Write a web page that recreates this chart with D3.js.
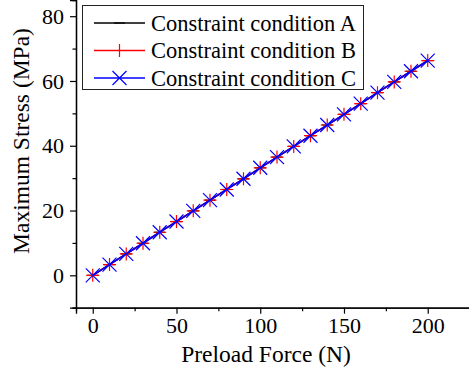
<!DOCTYPE html>
<html>
<head>
<meta charset="utf-8">
<script src="https://cdn.jsdelivr.net/npm/d3@7.9.0/dist/d3.min.js"></script>
<style>
  body { margin: 0; background: #fff; }
  svg { display: block; }
  svg text { font-family: "Liberation Serif", "Times New Roman", serif !important; }
</style>
</head>
<body>
<svg width="469" height="375"></svg>
<script>
// preload force (N)
const force = [0, 10, 20, 30, 40, 50, 60, 70, 80, 90, 100, 110, 120, 130, 140, 150, 160, 170, 180, 190, 200];
// maximum stress (MPa) for each constraint condition
const stressA = [0, 3.3, 6.6, 9.9, 13.3, 16.6, 19.9, 23.2, 26.5, 29.8, 33.2, 36.5, 39.8, 43.1, 46.4, 49.7, 53.0, 56.4, 59.7, 63.0, 66.3];
const stressB = [0, 3.3, 6.6, 9.9, 13.3, 16.6, 19.9, 23.2, 26.5, 29.8, 33.2, 36.5, 39.8, 43.1, 46.4, 49.7, 53.0, 56.4, 59.7, 63.0, 66.3];
const stressC = [0, 3.3, 6.6, 9.9, 13.3, 16.6, 19.9, 23.2, 26.5, 29.8, 33.2, 36.5, 39.8, 43.1, 46.4, 49.7, 53.0, 56.4, 59.7, 63.0, 66.3];
const seriesNames = ["Constraint condition A", "Constraint condition B", "Constraint condition C"];
const xTicks = [0, 50, 100, 150, 200];
const yTicks = [0, 20, 40, 60, 80];

const svg = d3.select("svg");
const serif = "'Liberation Serif', 'Times New Roman', serif";

let x = d3.scaleLinear().domain([-10, 225]).range([76, 469.6]);
let y = d3.scaleLinear().domain([-10, 85]).range([307.7, 0]);

// axes, ticks outward, minor ticks in between
let xAxis = d3.axisBottom(x).tickValues(xTicks).tickSize(6).tickPadding(4).tickFormat(d3.format("d"));
let xMinor = d3.axisBottom(x).tickValues([25, 75, 125, 175]).tickSize(3.5).tickFormat("");
let yAxis = d3.axisLeft(y).tickValues(yTicks).tickSize(6).tickPadding(6).tickFormat(d3.format("d"));
let yMinor = d3.axisLeft(y).tickValues([-10, 10, 30, 50, 70]).tickSize(3.5).tickFormat("");

function styleAxis(g) {
  g.attr("font-family", serif).attr("font-size", 22);
  g.select(".domain").attr("stroke", "#000").attr("stroke-width", 1.3);
  g.selectAll(".tick line").attr("stroke", "#000").attr("stroke-width", 1.2);
  g.selectAll(".tick text").attr("fill", "#000");
}

svg.append("g").attr("transform", "translate(0,307.7)").call(xAxis).call(styleAxis);
svg.append("g").attr("transform", "translate(0,307.7)").call(xMinor).call(styleAxis);
svg.append("g").attr("transform", "translate(76,0)").call(yAxis).call(styleAxis);
svg.append("g").attr("transform", "translate(76,0)").call(yMinor).call(styleAxis);

// axis titles
svg.append("text")
  .attr("x", 266).attr("y", 362)
  .attr("text-anchor", "middle")
  .attr("font-family", serif)
  .attr("font-size", 23.5)
  .text("Preload Force (N)");

svg.append("text")
  .attr("transform", "translate(29,141) rotate(-90)")
  .attr("text-anchor", "middle")
  .attr("font-family", serif)
  .attr("font-size", 23.5)
  .text("Maximum Stress (MPa)");

// series
let series = [
  { name: seriesNames[0], values: stressA, color: "#000000", marker: "dash" },
  { name: seriesNames[1], values: stressB, color: "#ff0000", marker: "plus" },
  { name: seriesNames[2], values: stressC, color: "#0000ff", marker: "cross" },
];

function markerPath(type, s) {
  if (type === "dash") return `M${-s},0H${s}`;
  if (type === "plus") return `M${-s},0H${s}M0,${-s}V${s}`;
  return `M${-s},${-s}L${s},${s}M${-s},${s}L${s},${-s}`;
}
const markerSize = { dash: 5.5, plus: 6.5, cross: 7 };

let line = d3.line().x((d, i) => x(force[i])).y(d => y(d));

series.forEach(s => {
  svg.append("path")
    .attr("d", line(s.values))
    .attr("fill", "none")
    .attr("stroke", s.color)
    .attr("stroke-width", 1.5);
  svg.append("g").selectAll("path")
    .data(s.values)
    .join("path")
    .attr("transform", (d, i) => `translate(${x(force[i])},${y(d)})`)
    .attr("d", markerPath(s.marker, markerSize[s.marker]))
    .attr("stroke", s.color)
    .attr("stroke-width", 1.2)
    .attr("fill", "none");
});

// legend
let legend = svg.append("g");
legend.append("rect")
  .attr("x", 82.5).attr("y", 5.5)
  .attr("width", 281).attr("height", 84)
  .attr("fill", "#fff")
  .attr("stroke", "#222")
  .attr("stroke-width", 1);

series.forEach((s, idx) => {
  let cy = 23 + idx * 27.5;
  legend.append("line")
    .attr("x1", 94).attr("x2", 145)
    .attr("y1", cy).attr("y2", cy)
    .attr("stroke", s.color).attr("stroke-width", 1.5);
  legend.append("path")
    .attr("transform", `translate(119.5,${cy})`)
    .attr("d", markerPath(s.marker, markerSize[s.marker]))
    .attr("stroke", s.color).attr("stroke-width", 1.2);
  legend.append("text")
    .attr("x", 151).attr("y", cy + 7.5)
    .attr("font-family", serif)
    .attr("font-size", 22.5)
    .text(s.name);
});
</script>
</body>
</html>
